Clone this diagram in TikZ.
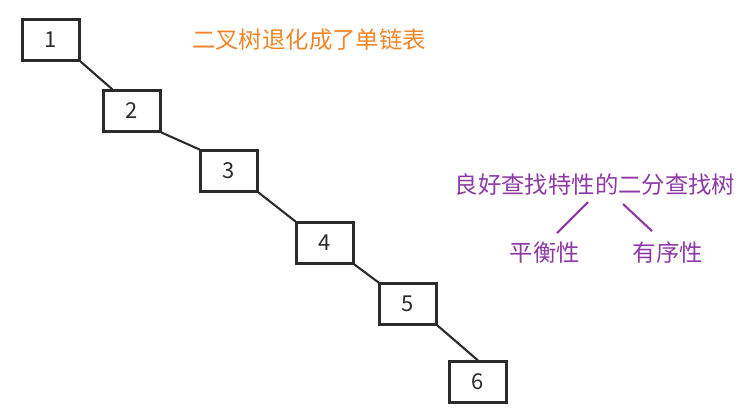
\documentclass[tikz,border=0pt]{standalone}
\usepackage{fontspec}
\setmainfont{Noto Sans CJK SC}
\usetikzlibrary{calc}
\definecolor{dkgray}{HTML}{2B2B2B}
\definecolor{orng}{HTML}{F0862A}
\definecolor{purp}{HTML}{8E3AA6}

\begin{document}
\begin{tikzpicture}[
  x=0.02cm, y=-0.02cm,
  box/.style={
    draw=dkgray, line width=1.2pt, fill=white,
    minimum width=1.14cm, minimum height=0.82cm, inner sep=0pt,
    font=\fontsize{12.5}{14}\selectfont, text=dkgray
  },
  link/.style={line width=1.2pt, dkgray},
  plink/.style={line width=1.2pt, purp},
  note/.style={font=\fontsize{13.3}{15}\selectfont, inner sep=1pt},
]

% Canvas
\useasboundingbox (0,0) rectangle (756,416);

% Degenerate chain
\node[box] (n1) at (51,40) {1};
\node[box] (n2) at (132,111) {2};
\node[box] (n3) at (229,171) {3};
\node[box] (n4) at (325,243) {4};
\node[box] (n5) at (408,304) {5};
\node[box] (n6) at (478,382) {6};

% Links
\draw[link] (n1.south east) -- ($(n2.north west)+(10,0)$);
\draw[link] (n2.south east) -- (n3.north west);
\draw[link] (n3.south east) -- (n4.north west);
\draw[link] (n4.south east) -- (n5.north west);
\draw[link] (n5.south east) -- (n6.north);

% Caption
\node[note, text=orng] (cap) at (309,40) {二叉树退化成了单链表};

% Properties of a good search tree
\node[note, text=purp] (good) at (595,185) {良好查找特性的二分查找树};
\node[note, text=purp] (bal) at (545,253) {平衡性};
\node[note, text=purp] (ord) at (668,253) {有序性};

\draw[plink] ($(good.south)+(-7,4)$) -- ($(bal.north)+(12,-7)$);
\draw[plink] ($(good.south)+(28,6)$) -- ($(ord.north)+(-16,-9)$);

\end{tikzpicture}
\end{document}
